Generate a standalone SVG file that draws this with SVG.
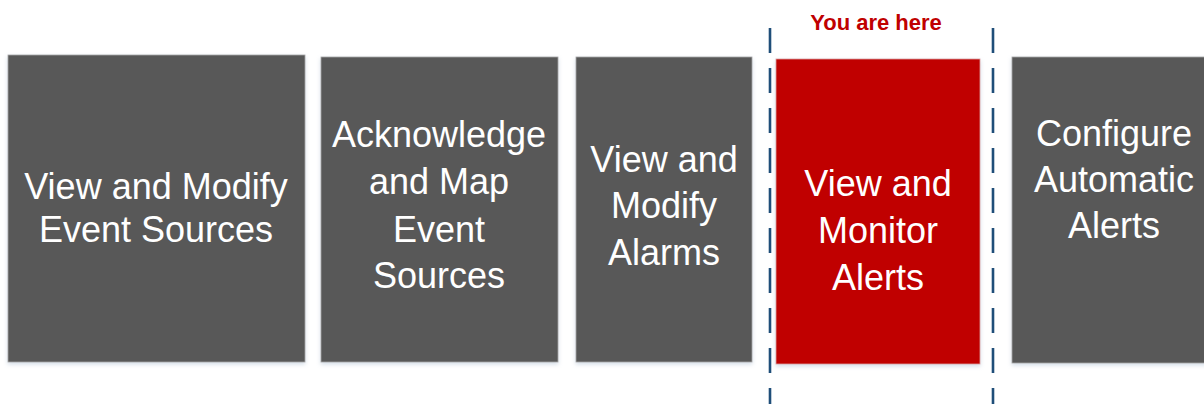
<svg xmlns="http://www.w3.org/2000/svg" width="1204" height="404" viewBox="0 0 1204 404">
<style>
.box{fill:#595959;stroke:#a6a6a6;stroke-width:0.8}
.cur{fill:#c00000;stroke:#d9a0a0;stroke-width:0.8}
.lbl{font-family:"Liberation Sans",Arial,sans-serif;font-size:36px;fill:#ffffff;text-anchor:middle}
.here{font-family:"Liberation Sans",Arial,sans-serif;font-size:22px;font-weight:bold;fill:#c00000;text-anchor:middle}
.dash{stroke:#1f4e79;stroke-width:2.6;stroke-dasharray:25 15;fill:none}
</style>
<defs>
<filter id="sh" x="-5%" y="-5%" width="110%" height="110%">
<feDropShadow dx="0" dy="2" stdDeviation="2" flood-color="#9fb3cc" flood-opacity="0.45"/>
</filter>
</defs>
<rect width="1204" height="404" fill="#ffffff"/>
<g id="connectors">
<line class="dash" x1="770" y1="28" x2="770" y2="404"/>
<line class="dash" x1="993" y1="28" x2="993" y2="404"/>
</g>
<g id="you-are-here">
<text class="here" x="876" y="30">You are here</text>
</g>
<g id="n1">
<rect class="box" x="8" y="55" width="297" height="307" filter="url(#sh)"/>
<text class="lbl" x="156" y="199">View and Modify</text>
<text class="lbl" x="156" y="242">Event Sources</text>
</g>
<g id="n2">
<rect class="box" x="321" y="57" width="237" height="305" filter="url(#sh)"/>
<text class="lbl" x="439" y="147">Acknowledge</text>
<text class="lbl" x="439" y="194">and Map</text>
<text class="lbl" x="439" y="242">Event</text>
<text class="lbl" x="439" y="288">Sources</text>
</g>
<g id="n3">
<rect class="box" x="576" y="57" width="176" height="305" filter="url(#sh)"/>
<text class="lbl" x="664" y="172">View and</text>
<text class="lbl" x="664" y="218">Modify</text>
<text class="lbl" x="664" y="265">Alarms</text>
</g>
<g id="n4">
<rect class="cur" x="776" y="59" width="204" height="305" filter="url(#sh)"/>
<text class="lbl" x="878" y="196">View and</text>
<text class="lbl" x="878" y="243">Monitor</text>
<text class="lbl" x="878" y="290">Alerts</text>
</g>
<g id="n5">
<rect class="box" x="1012" y="57" width="204" height="306" filter="url(#sh)"/>
<text class="lbl" x="1114" y="146">Configure</text>
<text class="lbl" x="1114" y="192">Automatic</text>
<text class="lbl" x="1114" y="238">Alerts</text>
</g>
</svg>
